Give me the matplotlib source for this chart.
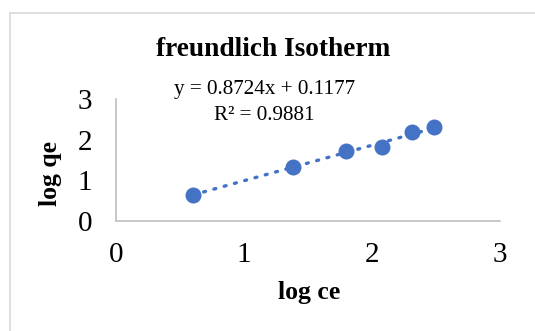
import matplotlib
matplotlib.use("Agg")
import matplotlib.pyplot as plt
from matplotlib.patches import Rectangle
import numpy as np

log_ce = [0.604, 1.385, 1.80, 2.076, 2.31, 2.487]
log_qe = [0.63, 1.34, 1.73, 1.81, 2.20, 2.32]
slope = 0.8724
intercept = 0.1177
r2 = 0.9881
x_ticks = [0, 1, 2, 3]
y_ticks = [0, 1, 2, 3]

plt.rcParams['font.family'] = ['Liberation Serif', 'DejaVu Serif']
W, H = 535, 331
fig = plt.figure(figsize=(W/100, H/100), dpi=100)
fig.patches.append(Rectangle((10/W, -0.1), 1.2, 1 - 13/H + 0.1, transform=fig.transFigure,
                             fill=False, edgecolor='#D9D9D9', linewidth=1.2))
ax = fig.add_axes([116/W, 1 - 221/H, (500-116)/W, (221-99)/H])
blue = '#4472C4'
xs = np.array([min(log_ce), max(log_ce)])
ax.plot(xs, slope*xs + intercept, linestyle=(0, (0.6, 2.6)), color=blue, lw=2.4,
        dash_capstyle='round', zorder=2)
ax.plot(log_ce, log_qe, 'o', color=blue, markersize=10.5, zorder=3)
ax.set_xlim(0, 3)
ax.set_ylim(0, 3)
ax.set_xticks(x_ticks)
ax.set_yticks(y_ticks)
ax.tick_params(length=0, labelsize=21)
ax.tick_params(axis='y', pad=17)
ax.tick_params(axis='x', pad=15)
for s in ['top', 'right']:
    ax.spines[s].set_visible(False)
for s in ['left', 'bottom']:
    ax.spines[s].set_color('#BFBFBF')
    ax.spines[s].set_linewidth(1.2)
fig.text(273/W, 1 - 50/H, 'freundlich Isotherm', ha='center', va='center',
         fontsize=19.7, fontweight='bold')
fig.text(265/W, 1 - 90/H, f'y = {slope}x + {intercept}', ha='center', va='center',
         fontsize=15.2)
fig.text(264/W, 1 - 115/H, f'R² = {r2}', ha='center', va='center',
         fontsize=15.2)
fig.text(50/W, 1 - 173/H, 'log qe', rotation=90, ha='center', va='center',
         fontsize=18.5, fontweight='bold')
fig.text(309/W, 1 - 293/H, 'log ce', ha='center', va='center',
         fontsize=18.5, fontweight='bold')
fig.savefig('out.png', dpi=100)
